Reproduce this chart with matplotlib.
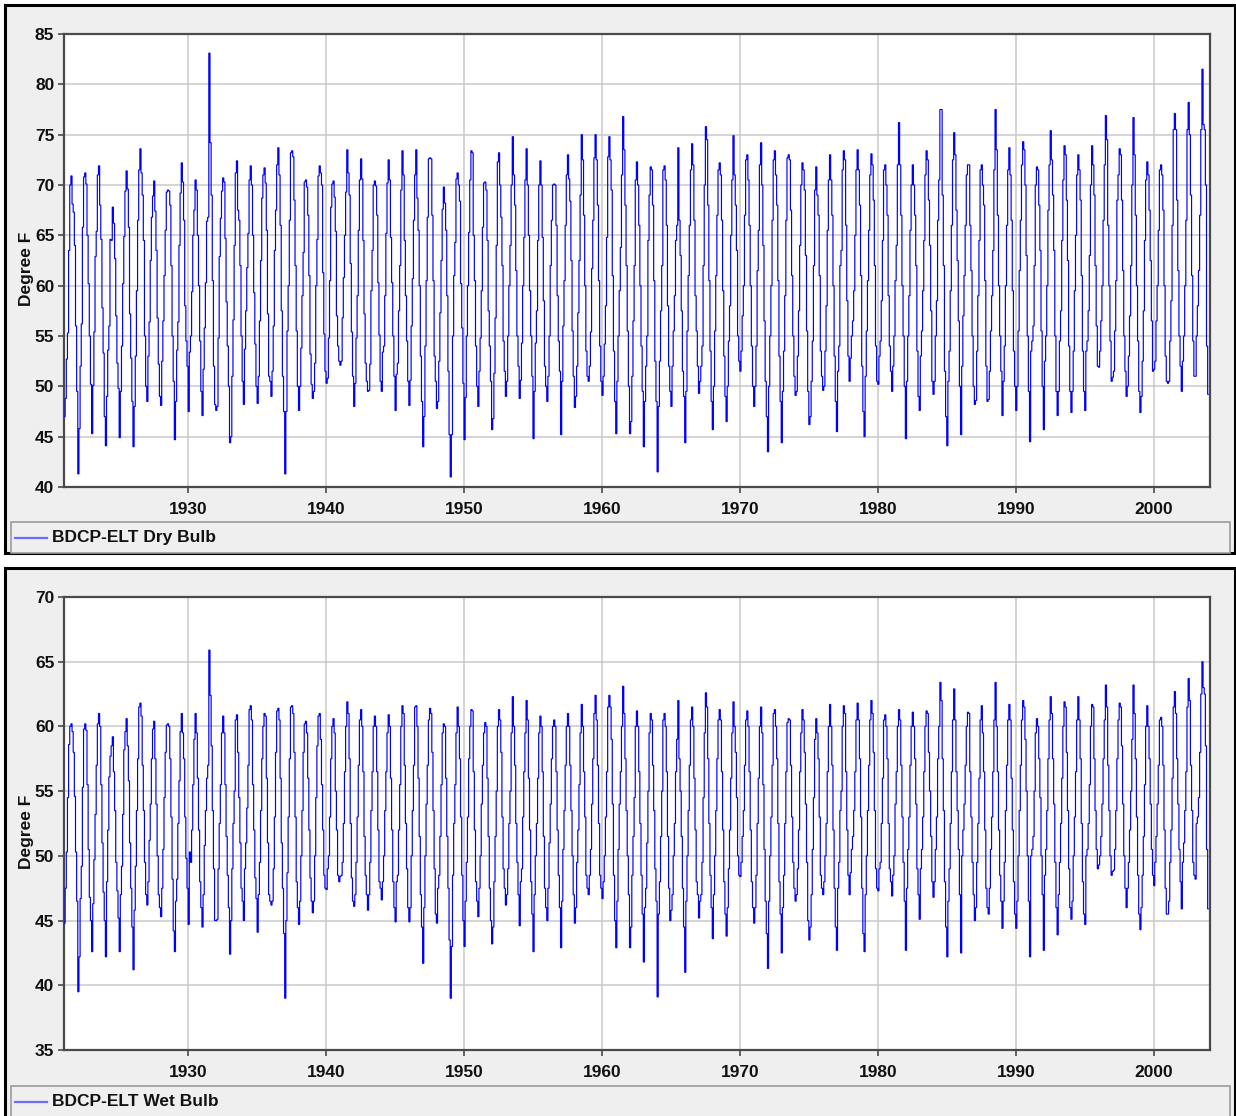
import numpy as np
import matplotlib
matplotlib.use("Agg")
import matplotlib.pyplot as plt
from matplotlib.patches import Rectangle
from matplotlib.lines import Line2D

# ---------------- data: monthly values, Jan 1921 .. Dec 2003 ----------------
START_YEAR = 1921
years_ticks = [1930, 1940, 1950, 1960, 1970, 1980, 1990, 2000]
dry_yticks = [40, 45, 50, 55, 60, 65, 70, 75, 80, 85]
wet_yticks = [35, 40, 45, 50, 55, 60, 65, 70]
dry_label = "BDCP-ELT Dry Bulb"
wet_label = "BDCP-ELT Wet Bulb"
y_title = "Degree F"

dry_1921_1930 = [
    47.0, 48.8, 52.7, 55.3, 63.5, 70.0, 70.9, 68.1, 67.3, 64.0, 56.0, 49.5,
    41.3, 45.8, 52.0, 56.2, 65.8, 70.8, 71.2, 70.1, 65.0, 60.2, 55.0, 50.2,
    45.3, 50.1, 55.4, 62.9, 65.4, 71.0, 71.9, 68.0, 64.6, 57.8, 53.3, 47.0,
    44.1, 49.0, 53.6, 56.0, 64.6, 64.5, 67.8, 66.2, 62.7, 57.0, 52.3, 49.8,
    44.9, 49.5, 54.0, 60.2, 64.9, 69.4, 71.4, 69.6, 65.8, 57.2, 52.8, 48.5,
    44.0, 48.0, 53.0, 59.5, 66.5, 71.5, 73.6, 71.2, 69.0, 64.5, 55.0, 50.0,
    48.5, 53.0, 56.4, 62.5, 66.8, 68.9, 70.4, 67.4, 63.5, 56.8, 52.2, 49.0,
    48.1, 52.5, 56.5, 61.0, 65.5, 69.3, 69.5, 69.4, 68.0, 62.0, 55.0, 50.5,
    44.7, 48.5, 53.6, 56.4, 64.0, 69.2, 72.2, 70.3, 66.5, 58.0, 54.5, 52.0,
    47.5, 53.4, 55.0, 59.4, 65.0, 67.5, 70.5, 69.5, 65.0, 60.0, 54.5, 49.5,
]
dry_1931_1940 = [
    47.1, 51.7, 55.8, 60.3, 66.4, 66.8, 83.1, 74.2, 69.0, 60.5, 52.0, 48.2,
    47.6, 48.0, 54.8, 62.9, 66.7, 69.4, 70.7, 70.3, 64.7, 58.4, 54.0, 50.0,
    44.4, 45.0, 51.0, 56.6, 64.0, 71.2, 72.4, 67.5, 66.5, 62.0, 55.0, 50.5,
    48.2, 53.7, 57.5, 61.8, 65.2, 70.5, 71.9, 70.0, 65.0, 59.3, 54.2, 50.0,
    48.3, 51.0, 56.5, 62.5, 68.7, 71.0, 71.7, 70.2, 65.5, 57.2, 51.0, 50.5,
    49.0, 51.5, 56.0, 63.5, 67.5, 72.0, 73.7, 71.0, 66.0, 57.5, 51.0, 47.5,
    41.3, 47.5, 55.5, 60.0, 66.5, 73.2, 73.4, 72.8, 68.5, 62.0, 55.5, 50.0,
    47.6, 50.0, 53.8, 59.0, 63.3, 70.3, 70.5, 69.8, 67.0, 61.0, 53.2, 50.2,
    48.8, 49.5, 52.3, 60.0, 64.6, 70.9, 71.9, 71.2, 70.0, 61.3, 55.2, 51.5,
    50.3, 50.8, 54.8, 60.5, 67.8, 70.1, 70.4, 68.8, 65.4, 57.0, 54.0, 52.5,
]
dry_1941_1950 = [
    52.1, 52.5, 56.8, 60.8, 65.0, 69.3, 73.5, 71.2, 69.0, 62.2, 55.4, 51.0,
    48.0, 50.3, 54.8, 59.0, 65.5, 70.5, 72.6, 70.6, 64.5, 57.2, 52.3, 50.5,
    49.5, 49.6, 52.2, 59.5, 63.5, 70.0, 70.4, 69.9, 67.0, 60.3, 55.1, 50.5,
    49.5, 53.4, 54.0, 59.0, 65.2, 70.2, 72.5, 70.5, 64.8, 60.3, 55.0, 51.0,
    47.6, 51.2, 52.3, 57.5, 62.0, 69.5, 73.4, 71.0, 64.5, 59.0, 54.5, 50.5,
    48.1, 50.6, 56.0, 60.7, 66.5, 71.0, 73.5, 68.7, 65.5, 60.0, 53.0, 48.5,
    44.0, 47.0, 54.0, 60.5, 66.8, 72.6, 72.7, 72.6, 67.0, 60.5, 53.0, 50.5,
    47.8, 48.5, 52.5, 57.3, 62.5, 67.6, 69.8, 68.2, 65.5, 59.0, 51.5, 45.2,
    41.0, 45.2, 55.0, 61.0, 64.3, 70.6, 71.2, 70.0, 68.4, 60.2, 55.8, 50.3,
    44.7, 48.9, 55.0, 60.0, 65.3, 70.5, 73.4, 73.2, 65.0, 60.5, 54.0, 50.0,
]
dry_1951_1960 = [
    48.0, 51.5, 54.8, 59.5, 65.8, 70.2, 70.3, 69.5, 64.5, 57.5, 54.0, 50.5,
    45.7, 46.8, 51.3, 56.8, 64.0, 72.3, 73.2, 70.0, 66.8, 62.0, 54.5, 51.5,
    49.0, 50.5, 55.0, 60.0, 64.0, 70.0, 74.8, 71.0, 68.0, 61.5, 55.0, 52.0,
    48.8, 50.6, 54.3, 60.0, 64.8, 70.5, 73.6, 70.0, 65.0, 59.5, 55.0, 51.0,
    44.8, 49.5, 54.3, 57.5, 64.5, 70.0, 72.4, 70.0, 64.8, 58.5, 52.0, 50.0,
    48.5, 51.0, 55.0, 62.0, 66.5, 70.0, 70.1, 70.0, 66.0, 59.0, 54.5, 51.5,
    45.2, 50.5, 56.0, 60.5, 66.0, 71.0, 73.0, 70.6, 68.4, 62.5, 55.5, 51.0,
    47.9, 49.0, 52.0, 57.3, 62.5, 69.0, 75.0, 72.5, 67.0, 60.0, 53.5, 51.0,
    50.5, 52.0, 55.4, 61.7, 66.5, 72.7, 75.0, 72.5, 68.0, 60.5, 54.0, 50.5,
    49.1, 51.0, 54.2, 58.0, 64.8, 72.8, 74.8, 72.5, 69.5, 61.0, 53.5, 48.5,
]
dry_1961_1970 = [
    45.3, 50.5, 55.0, 59.5, 63.8, 71.0, 76.8, 73.5, 68.0, 62.0, 55.5, 50.0,
    45.3, 46.5, 51.0, 56.5, 62.0, 70.5, 72.3, 70.0, 66.0, 60.0, 54.0, 49.5,
    44.0, 48.5, 52.0, 55.0, 64.5, 69.0, 71.8, 71.5, 68.0, 60.5, 52.5, 48.5,
    41.5, 48.0, 52.5, 57.5, 62.0, 71.5, 71.9, 70.5, 66.0, 58.0, 52.0, 49.5,
    48.0, 52.0, 55.5, 59.0, 64.5, 66.0, 73.7, 66.5, 63.0, 57.5, 51.5, 49.0,
    44.4, 49.5, 55.5, 61.0, 66.0, 71.5, 74.1, 72.0, 66.5, 59.0, 55.5, 52.0,
    49.3, 50.5, 52.0, 54.0, 62.0, 70.0, 75.8, 74.5, 68.0, 60.5, 53.5, 48.5,
    45.7, 50.0, 55.5, 61.0, 67.0, 71.5, 72.2, 71.0, 66.5, 59.5, 53.0, 49.0,
    46.5, 50.0, 54.5, 58.0, 65.0, 70.5, 74.9, 71.0, 68.0, 63.5, 55.0, 52.5,
    51.5, 53.5, 57.0, 60.0, 67.0, 72.5, 73.0, 70.5, 66.0, 60.0, 54.0, 50.0,
]
dry_1971_1980 = [
    48.0, 50.0, 54.0, 61.5, 65.5, 72.0, 74.2, 70.0, 64.0, 56.5, 50.5, 47.0,
    43.5, 50.0, 55.0, 60.0, 66.5, 72.5, 73.4, 71.0, 68.0, 60.5, 53.0, 48.5,
    44.4, 49.5, 53.5, 59.0, 66.5, 72.7, 73.0, 72.5, 67.5, 61.0, 55.0, 51.0,
    49.1, 49.5, 53.0, 57.5, 64.0, 70.0, 72.2, 71.5, 69.5, 63.0, 55.5, 49.5,
    46.2, 47.0, 50.5, 54.5, 62.0, 69.5, 71.8, 69.0, 67.0, 61.0, 53.5, 51.0,
    49.6, 50.0, 53.5, 58.0, 65.5, 70.5, 73.0, 70.5, 67.0, 60.0, 53.0, 48.5,
    45.5, 51.5, 54.0, 62.0, 63.5, 71.5, 73.4, 72.5, 66.0, 58.5, 53.0, 50.5,
    52.8, 55.0, 56.5, 59.5, 65.0, 71.5, 73.5, 71.5, 68.0, 61.0, 52.0, 47.5,
    45.0, 51.0, 55.5, 60.5, 65.5, 71.0, 73.1, 72.0, 68.5, 62.0, 54.0, 50.5,
    50.2, 53.0, 54.5, 58.5, 64.5, 71.5, 72.0, 70.0, 67.0, 59.0, 54.0, 51.5,
]
dry_1981_1990 = [
    49.5, 52.0, 55.0, 60.5, 64.0, 72.0, 76.2, 72.0, 67.0, 60.0, 55.0, 50.0,
    44.8, 50.5, 55.0, 59.0, 65.5, 70.0, 72.0, 70.0, 67.0, 62.0, 53.5, 49.0,
    47.6, 53.0, 55.5, 59.5, 64.5, 71.0, 73.4, 72.5, 68.5, 64.0, 57.5, 50.5,
    49.2, 50.5, 55.0, 58.5, 66.5, 70.5, 77.5, 77.5, 69.0, 62.0, 51.5, 47.0,
    44.1, 50.5, 53.5, 59.5, 66.0, 72.5, 75.2, 73.0, 67.5, 62.5, 56.5, 50.0,
    45.2, 52.0, 57.0, 61.0, 66.0, 71.0, 72.0, 72.0, 66.0, 61.5, 55.0, 50.0,
    48.2, 48.6, 53.5, 59.0, 64.5, 71.5, 72.0, 70.0, 68.0, 60.5, 52.0, 48.5,
    48.7, 51.5, 55.5, 59.0, 63.5, 71.5, 77.5, 73.5, 67.0, 60.0, 55.0, 51.5,
    47.1, 50.5, 54.0, 60.0, 66.0, 71.5, 73.7, 71.0, 66.5, 59.5, 53.5, 50.0,
    47.6, 50.0, 55.5, 61.5, 66.5, 72.0, 74.3, 73.5, 70.0, 63.0, 55.0, 49.5,
]
dry_1991_2000 = [
    44.5, 53.5, 54.5, 56.0, 62.0, 70.0, 71.8, 71.5, 68.0, 63.5, 55.5, 50.0,
    45.7, 52.5, 55.0, 60.0, 67.5, 72.0, 75.4, 72.5, 69.0, 63.5, 55.0, 49.5,
    47.1, 49.5, 54.5, 57.5, 64.5, 70.5, 73.9, 73.0, 68.5, 62.5, 54.0, 49.5,
    47.4, 49.5, 53.5, 59.5, 65.0, 71.0, 73.0, 71.5, 68.5, 61.0, 53.5, 49.5,
    47.6, 53.5, 54.5, 57.5, 63.0, 70.0, 73.9, 72.0, 69.0, 62.0, 56.0, 52.0,
    51.9, 53.5, 56.5, 60.0, 66.5, 72.0, 76.9, 74.5, 66.0, 60.0, 54.5, 50.5,
    50.9, 51.5, 55.5, 60.5, 68.5, 71.0, 73.6, 73.0, 68.5, 61.5, 55.0, 51.5,
    49.0, 50.0, 53.0, 57.0, 62.0, 70.0, 76.7, 73.0, 67.0, 60.0, 54.5, 49.5,
    47.4, 49.0, 52.5, 57.5, 64.5, 70.5, 72.3, 71.0, 67.5, 62.5, 56.5, 51.5,
    51.7, 52.5, 56.5, 60.0, 65.5, 71.5, 72.0, 71.0, 67.5, 60.0, 53.0, 50.5,
]
dry_2001_2003 = [
    50.3, 50.5, 54.5, 58.5, 66.0, 75.5, 77.1, 75.5, 68.5, 61.5, 55.0, 52.0,
    49.5, 52.5, 55.0, 60.0, 66.5, 75.5, 78.2, 75.0, 69.0, 61.0, 54.5, 51.0,
    51.0, 55.0, 58.0, 61.5, 67.0, 75.5, 81.5, 76.0, 75.5, 70.0, 54.0, 49.2,
]

wet_1921_1930 = [
    44.8, 47.5, 50.3, 54.5, 58.6, 60.0, 60.2, 59.6, 58.0, 54.6, 50.3, 46.5,
    39.5, 42.2, 46.7, 49.2, 55.3, 59.8, 60.2, 59.7, 55.5, 50.5, 46.8, 45.0,
    42.6, 46.3, 49.7, 53.2, 57.0, 60.2, 61.0, 60.0, 55.5, 51.0, 47.2, 45.0,
    42.2, 48.0, 52.0, 56.1, 57.7, 58.5, 59.2, 56.5, 53.5, 49.5, 47.3, 45.2,
    42.6, 47.0, 49.2, 53.2, 58.2, 59.6, 60.6, 58.5, 55.8, 51.0, 47.5, 44.5,
    41.2, 45.8, 49.2, 53.5, 57.5, 61.5, 61.8, 60.8, 57.0, 53.5, 49.5, 47.0,
    46.2, 48.0, 51.2, 54.0, 57.5, 59.8, 60.4, 57.5, 54.0, 50.0, 47.0, 46.0,
    45.3, 47.5, 50.5, 54.5, 58.0, 60.1, 60.2, 60.0, 57.5, 53.0, 48.2, 44.2,
    42.6, 46.5, 48.2, 52.5, 55.8, 59.6, 61.0, 59.5, 57.5, 53.0, 49.8, 47.5,
    44.7, 50.3, 49.5, 52.0, 55.5, 59.0, 61.0, 59.5, 56.0, 52.0, 48.0, 46.0,
]
wet_1931_1940 = [
    44.5, 47.0, 50.8, 53.5, 56.0, 57.0, 65.9, 62.4, 58.5, 53.5, 49.0, 45.0,
    45.0, 45.1, 49.0, 52.5, 55.5, 59.5, 60.8, 59.5, 55.5, 51.5, 48.5, 46.0,
    42.4, 45.0, 49.0, 52.5, 55.0, 60.5, 60.9, 58.0, 54.5, 51.0, 47.5, 46.5,
    45.0, 49.0, 51.0, 53.7, 57.0, 61.3, 61.6, 60.5, 55.5, 52.0, 48.3, 46.7,
    44.1, 47.0, 49.5, 53.5, 57.5, 60.0, 61.0, 60.8, 56.0, 51.0, 47.0, 46.5,
    46.2, 46.5, 49.0, 53.0, 58.0, 61.2, 61.4, 60.5, 56.0, 51.0, 47.5, 44.0,
    39.0, 45.0, 48.7, 53.0, 57.5, 61.5, 61.6, 61.0, 58.0, 53.0, 48.0, 46.0,
    44.7, 46.5, 50.0, 53.5, 58.0, 60.2, 60.4, 59.5, 56.0, 52.0, 48.3, 46.5,
    45.6, 46.5, 50.0, 54.5, 58.5, 60.8, 61.0, 59.0, 55.5, 52.0, 48.5, 47.5,
    47.4, 49.0, 50.0, 53.0, 57.5, 60.0, 60.6, 59.5, 55.0, 52.0, 48.5, 48.0,
]
wet_1941_1950 = [
    48.4, 48.5, 49.5, 52.5, 56.5, 60.0, 61.9, 61.0, 57.5, 52.5, 48.3, 46.5,
    46.1, 47.0, 49.5, 53.0, 57.0, 60.5, 61.3, 60.0, 56.5, 51.5, 48.5, 47.0,
    45.8, 47.0, 49.5, 53.5, 56.5, 60.0, 60.8, 60.0, 56.5, 52.0, 48.0, 47.5,
    46.6, 48.0, 50.0, 53.5, 56.5, 59.5, 60.9, 60.0, 56.0, 52.0, 48.0, 46.0,
    44.9, 48.0, 48.5, 52.0, 55.5, 60.0, 61.6, 61.0, 57.0, 52.5, 49.0, 46.0,
    44.9, 46.0, 50.0, 53.5, 57.0, 61.5, 61.6, 60.0, 56.0, 51.5, 47.0, 44.5,
    41.7, 46.0, 50.0, 54.0, 57.0, 60.5, 61.4, 61.0, 58.0, 53.5, 49.0, 45.5,
    44.8, 47.5, 48.5, 51.5, 55.5, 59.5, 60.2, 60.0, 56.0, 51.5, 47.5, 43.5,
    39.0, 43.0, 48.5, 52.5, 55.5, 59.5, 61.5, 60.0, 57.5, 53.0, 48.5, 45.0,
    43.0, 46.5, 49.5, 53.0, 57.5, 60.0, 61.3, 61.2, 56.5, 52.0, 48.0, 46.5,
]
wet_1951_1960 = [
    45.3, 47.5, 50.0, 54.0, 57.0, 59.5, 60.3, 60.0, 56.0, 51.5, 47.5, 45.0,
    43.2, 44.5, 48.0, 51.5, 55.0, 60.0, 61.3, 60.5, 58.0, 53.0, 49.0, 47.5,
    46.2, 47.0, 49.0, 52.5, 55.0, 59.5, 62.3, 60.0, 57.0, 52.5, 49.5, 47.0,
    44.6, 48.0, 49.0, 53.0, 56.5, 59.5, 62.0, 60.5, 56.0, 52.0, 48.0, 45.5,
    42.6, 47.0, 50.0, 52.5, 56.0, 59.5, 60.8, 60.0, 56.5, 51.5, 47.5, 46.0,
    45.0, 47.5, 51.0, 54.0, 57.5, 60.0, 60.5, 60.0, 56.5, 52.0, 48.5, 46.0,
    42.9, 46.5, 50.5, 53.5, 57.0, 60.0, 61.0, 60.0, 57.0, 53.5, 50.0, 47.0,
    44.8, 46.0, 49.5, 52.0, 55.5, 59.5, 61.7, 60.0, 56.5, 53.0, 48.5, 47.5,
    47.0, 48.5, 50.5, 54.0, 57.5, 61.0, 62.4, 60.5, 57.0, 52.5, 48.5, 47.5,
    46.7, 48.0, 50.0, 53.0, 56.5, 61.5, 62.4, 61.5, 59.0, 54.0, 48.5, 45.0,
]
wet_1961_1970 = [
    42.9, 46.5, 50.5, 54.0, 56.5, 60.0, 63.1, 61.0, 57.5, 53.5, 50.0, 47.0,
    42.9, 44.5, 48.5, 51.5, 54.5, 60.0, 61.2, 60.0, 56.5, 52.5, 48.5, 45.5,
    41.8, 46.0, 47.5, 51.0, 55.0, 59.5, 61.0, 60.5, 57.0, 53.5, 49.0, 46.5,
    39.1, 45.5, 48.0, 51.5, 55.0, 60.5, 61.0, 60.0, 56.5, 51.5, 47.5, 45.0,
    45.8, 47.0, 50.0, 52.5, 56.5, 59.0, 62.0, 57.5, 55.0, 51.5, 47.5, 44.5,
    41.0, 46.5, 50.0, 53.5, 57.0, 60.5, 61.5, 60.0, 56.0, 52.0, 48.0, 47.0,
    45.2, 46.5, 47.0, 49.5, 54.5, 59.5, 62.6, 61.5, 57.5, 52.5, 48.5, 46.0,
    43.6, 47.0, 50.0, 53.5, 57.5, 60.5, 61.3, 60.5, 56.5, 52.0, 48.0, 45.5,
    43.8, 46.0, 49.0, 52.0, 56.0, 59.5, 61.9, 60.0, 58.0, 54.5, 50.0, 48.5,
    48.4, 49.5, 51.5, 53.5, 57.0, 60.5, 61.2, 60.0, 56.5, 52.0, 48.0, 46.0,
]
wet_1971_1980 = [
    44.8, 46.0, 48.5, 52.5, 56.0, 60.0, 61.5, 59.5, 55.5, 50.5, 46.5, 44.0,
    41.3, 46.5, 50.0, 53.0, 57.0, 61.0, 61.3, 60.0, 57.5, 52.5, 48.0, 45.5,
    42.5, 46.0, 48.5, 52.5, 56.5, 60.3, 60.6, 60.5, 57.0, 53.0, 49.5, 47.5,
    46.5, 47.0, 49.0, 52.0, 56.5, 59.5, 61.3, 60.5, 58.0, 54.0, 49.5, 45.0,
    43.5, 44.5, 47.0, 50.5, 54.5, 59.0, 60.6, 59.5, 57.5, 53.0, 48.5, 47.5,
    47.0, 48.0, 50.0, 52.5, 56.5, 60.0, 61.7, 60.0, 57.0, 52.0, 47.5, 44.5,
    42.7, 47.5, 49.5, 53.5, 55.0, 60.0, 61.6, 61.0, 56.5, 52.0, 48.5, 47.0,
    48.7, 50.5, 51.5, 53.5, 56.5, 60.5, 61.8, 60.5, 57.5, 53.0, 47.5, 44.0,
    42.6, 47.0, 50.0, 53.5, 57.0, 60.5, 62.0, 61.0, 58.0, 53.5, 49.0, 47.5,
    47.3, 49.0, 49.5, 52.5, 56.0, 60.5, 60.9, 60.0, 57.5, 52.5, 49.0, 48.0,
]
wet_1981_1990 = [
    46.9, 48.5, 50.0, 54.0, 56.5, 60.0, 61.3, 60.5, 57.0, 53.0, 49.5, 46.5,
    42.7, 47.5, 50.5, 53.0, 57.0, 60.0, 61.1, 60.0, 57.5, 54.0, 49.0, 47.0,
    45.1, 49.0, 50.5, 53.0, 56.5, 60.0, 61.2, 61.0, 58.0, 55.0, 51.5, 48.0,
    46.8, 48.0, 50.5, 53.0, 57.5, 60.0, 63.4, 62.0, 57.5, 53.5, 48.0, 44.5,
    42.2, 46.5, 49.0, 52.5, 56.5, 60.5, 62.9, 60.5, 56.5, 53.5, 50.5, 47.0,
    42.5, 50.0, 52.0, 54.0, 57.0, 60.0, 61.1, 61.0, 56.5, 53.0, 49.5, 47.0,
    45.0, 46.0, 49.5, 52.5, 56.0, 60.5, 61.6, 59.5, 56.5, 52.0, 47.5, 46.0,
    45.5, 47.5, 50.5, 53.0, 56.5, 60.5, 63.4, 60.0, 56.5, 52.0, 48.5, 46.5,
    44.4, 46.5, 49.5, 53.5, 57.0, 60.5, 61.7, 60.5, 56.0, 52.0, 48.0, 45.5,
    44.4, 46.5, 50.0, 53.5, 57.0, 60.5, 62.0, 61.5, 59.0, 55.0, 50.0, 46.5,
]
wet_1991_2000 = [
    42.2, 50.0, 50.5, 51.5, 55.0, 59.5, 60.6, 60.0, 57.5, 54.5, 50.0, 47.0,
    42.7, 48.5, 50.5, 53.5, 57.5, 60.5, 62.3, 61.0, 57.5, 54.0, 49.5, 46.0,
    43.9, 47.0, 49.5, 52.5, 56.0, 60.0, 61.9, 61.5, 58.0, 53.5, 49.0, 46.0,
    45.1, 46.5, 50.0, 53.0, 56.5, 60.5, 62.3, 60.5, 57.5, 52.5, 48.0, 45.5,
    44.7, 50.0, 50.5, 52.5, 55.5, 60.0, 61.7, 61.5, 57.5, 53.5, 50.5, 49.0,
    49.3, 50.0, 51.5, 54.0, 57.5, 60.5, 63.2, 61.5, 57.0, 53.5, 50.0, 48.5,
    48.8, 48.9, 50.5, 53.5, 57.5, 60.5, 61.8, 61.5, 58.5, 54.0, 50.0, 47.5,
    46.0, 47.5, 49.5, 52.0, 55.0, 59.0, 63.2, 61.0, 57.5, 53.0, 48.5, 45.5,
    44.3, 46.0, 48.5, 51.5, 55.5, 60.0, 61.6, 60.0, 57.5, 54.0, 50.5, 48.5,
    47.7, 49.5, 51.5, 54.0, 57.0, 60.5, 60.7, 60.0, 57.0, 52.0, 47.5, 45.5,
]
wet_2001_2003 = [
    45.5, 46.5, 49.5, 52.0, 56.0, 61.5, 62.7, 61.0, 57.5, 54.0, 50.5, 48.0,
    45.9, 49.5, 51.0, 53.5, 56.5, 61.5, 63.7, 62.0, 57.0, 53.5, 49.5, 48.5,
    48.2, 52.5, 53.0, 54.5, 58.0, 62.5, 65.0, 63.0, 62.5, 58.5, 50.5, 45.9,
]

dry_bulb = np.array(dry_1921_1930 + dry_1931_1940 + dry_1941_1950 + dry_1951_1960
                    + dry_1961_1970 + dry_1971_1980 + dry_1981_1990 + dry_1991_2000
                    + dry_2001_2003)
wet_bulb = np.array(wet_1921_1930 + wet_1931_1940 + wet_1941_1950 + wet_1951_1960
                    + wet_1961_1970 + wet_1971_1980 + wet_1981_1990 + wet_1991_2000
                    + wet_2001_2003)

# ---------------- figure ----------------
plt.rcParams["font.family"] = ["Liberation Sans", "DejaVu Sans"]
plt.rcParams["font.weight"] = "bold"

W, H = 1236, 1116
fig = plt.figure(figsize=(W / 100, H / 100), dpi=100)
fig.patch.set_facecolor("white")

PANEL_BG = "#efefef"
LINE_COLOR = "#0000ff"
GRID_COLOR = "#c9c9c9"
FS = 12.5


def fx(px):
    return px / W


def fy(py):
    return 1 - py / H


def panel(top, bottom, ax_top, ax_bottom, leg_top, values, yticks, label):
    # outer frame
    fig.add_artist(Rectangle((fx(5), fy(bottom)), fx(1230), (bottom - top) / H,
                             transform=fig.transFigure, facecolor=PANEL_BG,
                             edgecolor="black", lw=2.2, zorder=0))
    # legend box
    fig.add_artist(Rectangle((fx(11), fy(bottom)), fx(1219), (bottom - leg_top) / H,
                             transform=fig.transFigure, facecolor=PANEL_BG,
                             edgecolor="#9c9c9c", lw=1.2, zorder=1))
    leg_y = leg_top + 16
    fig.add_artist(Line2D([fx(15), fx(47)], [fy(leg_y), fy(leg_y)],
                          transform=fig.transFigure, color="#6b6bff", lw=1.6, zorder=2))
    fig.text(fx(52), fy(leg_y), label, ha="left", va="center", fontsize=FS,
             fontweight="bold", color="#111111", zorder=3)

    ax = fig.add_axes([fx(64), fy(ax_bottom), fx(1209.5 - 64), (ax_bottom - ax_top) / H])
    ax.set_facecolor("white")
    edges = START_YEAR + np.arange(len(values) + 1) / 12.0
    ax.stairs(values, edges, baseline=None, color=LINE_COLOR, lw=0.85, zorder=3)
    ax.set_xlim(1921.0, 2004.05)
    ax.set_ylim(yticks[0], yticks[-1])
    ax.set_yticks(yticks)
    ax.set_yticklabels([str(v) for v in yticks])
    ax.set_xticks(years_ticks)
    ax.set_xticklabels([str(v) for v in years_ticks])
    ax.grid(True, color=GRID_COLOR, lw=1.1, zorder=0)
    ax.set_axisbelow(True)
    for s in ax.spines.values():
        s.set_color("#4a4a4a")
        s.set_linewidth(1.6)
    ax.tick_params(axis="both", direction="out", length=4, width=1.2,
                   color="#4a4a4a", labelsize=FS, pad=3, labelcolor="#111111")
    ax.tick_params(axis="x", pad=7)
    for t in ax.get_xticklabels() + ax.get_yticklabels():
        t.set_fontweight("bold")
    fig.text(fx(26), fy((ax_top + ax_bottom) / 2 + 8), y_title, rotation=90,
             ha="center", va="center", fontsize=FS, fontweight="bold", color="#111111")
    return ax


panel(5, 553, 34, 487, 522, dry_bulb, dry_yticks, dry_label)
panel(568, 1118, 597, 1050, 1086, wet_bulb, wet_yticks, wet_label)

fig.savefig("out.png", dpi=100, facecolor="white")
